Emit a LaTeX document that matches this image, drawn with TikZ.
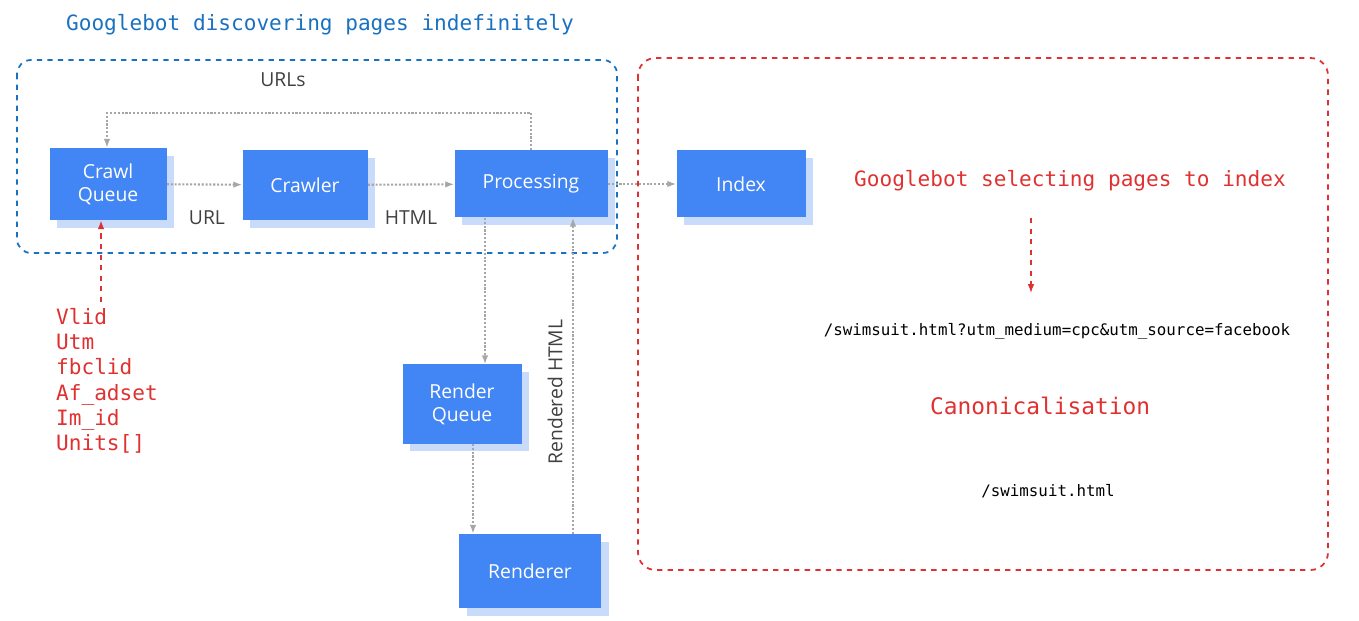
\documentclass[tikz,border=0pt]{standalone}
\usepackage{fontspec}
\setmainfont{Open Sans}
\newfontfamily\monofont{DejaVu Sans Mono}
\usetikzlibrary{shadows,arrows.meta}
\definecolor{gblue}{HTML}{4285F4}
\definecolor{gshadow}{HTML}{C9DBFB}
\definecolor{tblue}{HTML}{1971C2}
\definecolor{tred}{HTML}{E03131}
\tikzset{
  box/.style={fill=gblue, text=white, align=center, font=\fontsize{11}{13}\selectfont,
    inner sep=0pt, copy shadow={shadow xshift=4.5pt, shadow yshift=-4.5pt, fill=gshadow, draw=none}},
  flow/.style={gray!70, densely dotted, line width=1.2pt, -{Latex[length=5pt]}},
  red arrow/.style={tred, dashed, line width=0.8pt, -{Latex[length=5pt]}},
  lbl/.style={font=\fontsize{11}{13}\selectfont, text=black!75},
  note/.style={font=\monofont\fontsize{12}{14}\selectfont},
}
\begin{document}
\begin{tikzpicture}[x=0.02cm, y=-0.02cm]
\useasboundingbox (0,0) rectangle (1359,621);
% frames
\draw[tblue, dashed, line width=1pt, rounded corners=8pt] (17,60) rectangle (617,253);
\draw[tred, dashed, line width=1pt, rounded corners=10pt] (638,58) rectangle (1328,570);
\node[note, text=tblue] (title) at (320,25) {Googlebot discovering pages indefinitely};
% boxes
\node[box, minimum width=117*0.02cm, minimum height=72*0.02cm] (queue) at (108,184) {Crawl\\Queue};
\node[box, minimum width=125*0.02cm, minimum height=70*0.02cm] (crawler) at (305,185) {Crawler};
\node[box, minimum width=153*0.02cm, minimum height=67*0.02cm] (proc) at (531,184) {Processing};
\node[box, minimum width=129*0.02cm, minimum height=67*0.02cm] (index) at (741,184) {Index};
\node[box, minimum width=119*0.02cm, minimum height=79*0.02cm] (rqueue) at (462,404) {Render\\Queue};
\node[box, minimum width=142*0.02cm, minimum height=74*0.02cm] (renderer) at (530,571) {Renderer};
% connectors
\draw[flow] (queue) -- (crawler);
\draw[flow] (crawler) -- (proc);
\draw[flow] (proc) -- (index);
\draw[flow] (proc.north) ++(0,0) |- (107,113) -- (queue.north -| 107,0);
\draw[flow] (proc.south -| 485,0) -- (rqueue.north -| 485,0);
\draw[flow] (rqueue.south -| 473,0) -- (renderer.north -| 473,0);
\draw[flow] (renderer.north -| 573,0) -- (proc.south -| 573,0);
% labels
\node[lbl] (urls) at (283,80) {URLs};
\node[lbl] (url) at (207,218) {URL};
\node[lbl] (html) at (411,218) {HTML};
\node[lbl, rotate=90] (rhtml) at (555,392) {Rendered HTML};
% parameters
\node[note, text=tred, align=left, anchor=north west, font=\monofont\fontsize{12}{14.4}\selectfont] (params) at (50,302)
  {Vlid\\Utm\\fbclid\\Af\_adset\\Im\_id\\Units[]};
\draw[red arrow] (params.north -| 101,0) -- (queue.south -| 101,0);
% selection
\node[note, text=tred] (select) at (1070,181) {Googlebot selecting pages to index};
\coordinate (sel-end) at (1031,293);
\draw[red arrow] (1031,218) -- (sel-end);
\node[font=\monofont\fontsize{9}{11}\selectfont] (long) at (1057,331) {/swimsuit.html?utm\_medium=cpc\&utm\_source=facebook};
\node[note, text=tred, font=\monofont\fontsize{13}{15}\selectfont] (canon) at (1040,406) {Canonicalisation};
\node[font=\monofont\fontsize{9}{11}\selectfont] (short) at (1048,491) {/swimsuit.html};
\end{tikzpicture}
\end{document}
